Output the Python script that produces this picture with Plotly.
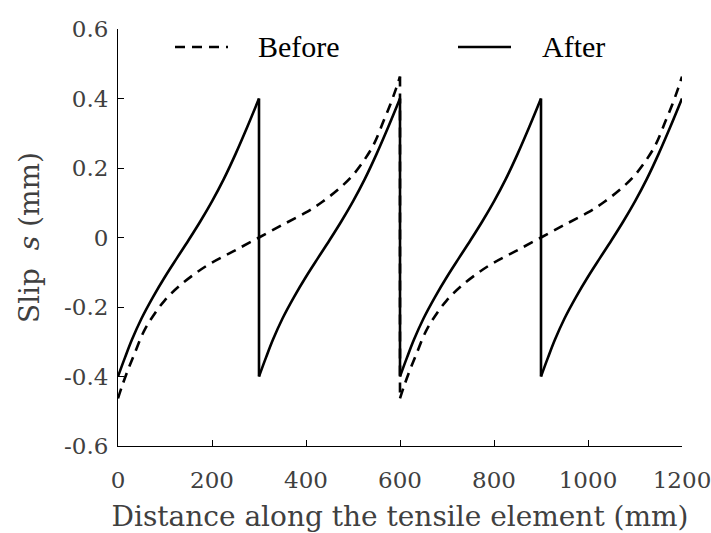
import plotly.graph_objects as go

# ---- data ----
# "After": four rising branches, joined by vertical drops at 300, 600 and 900 mm
# (None separates the pieces so each smooth branch is drawn on its own)
after_x = [0, 15, 30, 50, 75, 100, 125, 150, 175, 200, 225, 250, 275, 300, None,
           300, 300, None,
           300, 315, 330, 350, 375, 400, 425, 450, 475, 500, 525, 550, 575, 600, None,
           600, 600, None,
           600, 615, 630, 650, 675, 700, 725, 750, 775, 800, 825, 850, 875, 900, None,
           900, 900, None,
           900, 915, 930, 950, 975, 1000, 1025, 1050, 1075, 1100, 1125, 1150, 1175, 1200]
after_s = [-0.40, -0.345, -0.293, -0.233, -0.17, -0.113, -0.06, -0.008, 0.046, 0.104, 0.168, 0.24, 0.318, 0.40, None,
           0.40, -0.40, None,
           -0.40, -0.345, -0.293, -0.233, -0.17, -0.113, -0.06, -0.008, 0.046, 0.104, 0.168, 0.24, 0.318, 0.40, None,
           0.40, -0.40, None,
           -0.40, -0.345, -0.293, -0.233, -0.17, -0.113, -0.06, -0.008, 0.046, 0.104, 0.168, 0.24, 0.318, 0.40, None,
           0.40, -0.40, None,
           -0.40, -0.345, -0.293, -0.233, -0.17, -0.113, -0.06, -0.008, 0.046, 0.104, 0.168, 0.24, 0.318, 0.40]

# "Before": two branches with one drop at 600 mm
before_x = [0, 8, 20, 35, 55, 75, 100, 130, 165, 200, 245, 300,
            355, 400, 435, 470, 500, 525, 545, 565, 580, 592, 600, None,
            600, 600, None,
            600, 608, 620, 635, 655, 675, 700, 730, 765, 800, 845, 900,
            955, 1000, 1035, 1070, 1100, 1125, 1145, 1165, 1180, 1192, 1200]
before_s = [-0.463, -0.43, -0.385, -0.335, -0.27, -0.225, -0.18, -0.14, -0.103, -0.072, -0.04, 0.0,
            0.04, 0.072, 0.103, 0.14, 0.18, 0.225, 0.27, 0.335, 0.385, 0.43, 0.463, None,
            0.463, -0.463, None,
            -0.463, -0.43, -0.385, -0.335, -0.27, -0.225, -0.18, -0.14, -0.103, -0.072, -0.04, 0.0,
            0.04, 0.072, 0.103, 0.14, 0.18, 0.225, 0.27, 0.335, 0.385, 0.43, 0.463]

x_ticks = [0, 200, 400, 600, 800, 1000, 1200]
x_tick_labels = ["0", "200", "400", "600", "800", "1000", "1200"]
y_ticks = [-0.6, -0.4, -0.2, 0, 0.2, 0.4, 0.6]
y_tick_labels = ["-0.6", "-0.4", "-0.2", "0", "0.2", "0.4", "0.6"]

series_names = ["Before", "After"]

W, H = 711, 533
ML, MR, MT, MB = 118, 29, 29, 87
PW, PH = W - ML - MR, H - MT - MB

DASH = "10px,7px"
LW = 2.6

fig = go.Figure()
fig.add_trace(go.Scatter(x=before_x, y=before_s, mode="lines", name=series_names[0],
                         line=dict(color="black", width=LW, dash=DASH, shape="spline", smoothing=1.0),
                         connectgaps=False, showlegend=False))
fig.add_trace(go.Scatter(x=after_x, y=after_s, mode="lines", name=series_names[1],
                         line=dict(color="black", width=LW, shape="spline", smoothing=1.0),
                         connectgaps=False, showlegend=False))

tick_font = dict(family="DejaVu Serif", size=23, color="#404040")
title_font = dict(family="DejaVu Serif", size=28, color="#404040")

fig.update_xaxes(range=[0, 1200], tickvals=x_ticks, ticktext=x_tick_labels,
                 showline=True, linecolor="black", linewidth=1,
                 ticks="inside", ticklen=6, tickcolor="black", tickwidth=1,
                 showgrid=False, zeroline=False, tickfont=tick_font,
                 ticklabelstandoff=13, ticklabeloverflow="allow",
                 title=dict(text="Distance along the tensile element (mm)", font=title_font, standoff=14))
fig.update_yaxes(range=[-0.6, 0.6], tickvals=y_ticks, ticktext=y_tick_labels,
                 showline=True, linecolor="black", linewidth=1,
                 ticks="inside", ticklen=6, tickcolor="black", tickwidth=1,
                 showgrid=False, zeroline=False, tickfont=tick_font,
                 ticklabelstandoff=4, ticklabeloverflow="allow",
                 title=dict(text="Slip&nbsp; <i>s</i> (mm)", font=title_font, standoff=16))

# manual legend (long line samples as in the reference)
def px2paper_x(px):
    return (px - ML) / PW

def px2paper_y(py):
    return (H - MB - py) / PH

ly = px2paper_y(47)
shapes = [
    dict(type="line", xref="paper", yref="paper", x0=px2paper_x(175), x1=px2paper_x(228), y0=ly, y1=ly,
         line=dict(color="black", width=LW, dash=DASH)),
    dict(type="line", xref="paper", yref="paper", x0=px2paper_x(458), x1=px2paper_x(511), y0=ly, y1=ly,
         line=dict(color="black", width=LW)),
]
legend_font = dict(family="Liberation Serif", size=30, color="black")
annotations = [
    dict(xref="paper", yref="paper", x=px2paper_x(256), y=ly, text=series_names[0], showarrow=False,
         xanchor="left", yanchor="middle", font=legend_font),
    dict(xref="paper", yref="paper", x=px2paper_x(540), y=ly, text=series_names[1], showarrow=False,
         xanchor="left", yanchor="middle", font=legend_font),
]

fig.update_layout(width=W, height=H, margin=dict(l=ML, r=MR, t=MT, b=MB, autoexpand=False),
                  plot_bgcolor="white", paper_bgcolor="white",
                  shapes=shapes, annotations=annotations, showlegend=False)

fig.write_html("out.html")
